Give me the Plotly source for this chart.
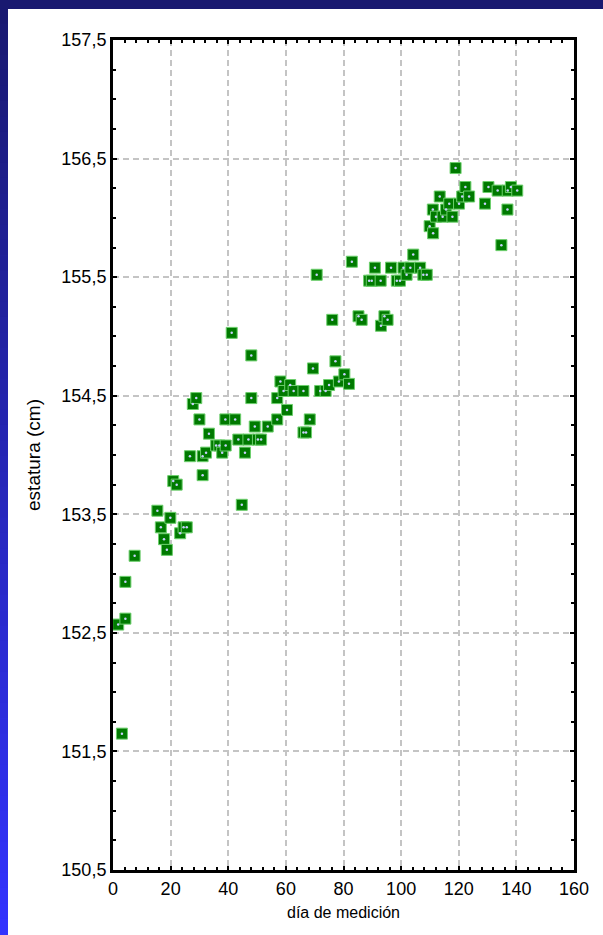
import plotly.graph_objects as go

# ---- data ----
dia = [3.1, 1.8, 4.3, 4.3, 7.5, 15.4, 16.6, 17.7, 18.7, 19.9,
       20.9, 22.1, 23.3, 24.5, 25.6, 26.7, 27.7, 28.9, 30.0, 31.1,
       31.1, 32.3, 33.3, 35.8, 36.9, 37.9, 39.0, 39.1, 41.2, 42.4,
       43.5, 44.7, 45.8, 47.0, 48.0, 48.0, 49.2, 50.3, 51.4, 53.7,
       57.0, 57.0, 58.1, 59.2, 60.4, 61.5, 62.7, 66.1, 66.1, 67.0,
       68.3, 69.4, 70.7, 71.9, 73.8, 75.0, 76.1, 77.2, 78.4, 80.3,
       81.9, 82.9, 85.2, 86.3, 88.9, 89.8, 90.9, 92.9, 93.0, 94.2,
       95.3, 96.5, 98.5, 99.6, 100.8, 101.9, 103.2, 104.2, 106.6, 107.7,
       108.9, 109.9, 111.0, 111.1, 112.1, 113.4, 114.4, 115.6, 116.7, 117.8,
       118.9, 120.1, 121.2, 122.3, 123.6, 129.1, 130.3, 133.5, 134.8, 136.9,
       137.0, 138.1, 140.3]
estatura = [151.65, 152.57, 152.62, 152.93, 153.15, 153.53, 153.39, 153.29, 153.20, 153.47,
            153.78, 153.75, 153.34, 153.39, 153.39, 153.99, 154.43, 154.48, 154.30, 153.83,
            153.99, 154.02, 154.18, 154.08, 154.08, 154.02, 154.30, 154.08, 155.03, 154.30,
            154.13, 153.58, 154.02, 154.13, 154.84, 154.48, 154.24, 154.13, 154.13, 154.24,
            154.48, 154.30, 154.62, 154.54, 154.38, 154.59, 154.54, 154.54, 154.19, 154.19,
            154.30, 154.73, 155.52, 154.54, 154.54, 154.59, 155.14, 154.79, 154.62, 154.68,
            154.60, 155.63, 155.17, 155.14, 155.47, 155.47, 155.58, 155.47, 155.09, 155.17,
            155.14, 155.58, 155.47, 155.47, 155.58, 155.52, 155.58, 155.69, 155.58, 155.52,
            155.52, 155.93, 156.07, 155.87, 156.01, 156.18, 156.01, 156.07, 156.12, 156.01,
            156.42, 156.12, 156.18, 156.26, 156.18, 156.12, 156.26, 156.23, 155.77, 156.07,
            156.23, 156.26, 156.23]

x_ticks = [0, 20, 40, 60, 80, 100, 120, 140, 160]
y_ticks = [150.5, 151.5, 152.5, 153.5, 154.5, 155.5, 156.5, 157.5]

W, H = 603, 935
ML, MR, MT, MB = 113, 29, 40, 65
PW, PH = W - ML - MR, H - MT - MB
FONT = "Liberation Sans, Arial"

fig = go.Figure()
fig.add_trace(go.Scatter(
    x=dia, y=estatura, mode="markers",
    marker=dict(symbol="square", size=11, color="#007a00",
                line=dict(color="#6ccf6c", width=1)),
    hoverinfo="x+y", showlegend=False))
fig.add_trace(go.Scatter(
    x=dia, y=estatura, mode="markers",
    marker=dict(symbol="circle", size=2.5, color="#c8d0ff", line=dict(width=0)),
    hoverinfo="skip", showlegend=False))

# frame (navy top band + gradient left stripe)
shapes = []
top_y0 = 1 + (MT - 9) / PH
top_y1 = 1 + MT / PH
shapes.append(dict(type="rect", xref="paper", yref="paper",
                   x0=-ML / PW, x1=1 + MR / PW, y0=top_y0, y1=top_y1,
                   fillcolor="#191970", line=dict(width=0), layer="below"))
n = 60
c0 = (25, 25, 112)
c1 = (51, 51, 255)
ybot = -MB / PH
ytop = top_y0
for i in range(n):
    t = (i + 0.5) / n
    col = tuple(round(c0[k] + (c1[k] - c0[k]) * t) for k in range(3))
    ya = ytop - (ytop - ybot) * i / n
    yb = ytop - (ytop - ybot) * (i + 1) / n
    shapes.append(dict(type="rect", xref="paper", yref="paper",
                       x0=-ML / PW, x1=(-ML + 8) / PW, y0=yb, y1=ya + 0.001,
                       fillcolor="rgb(%d,%d,%d)" % col, line=dict(width=0), layer="below"))

axis_common = dict(
    showline=True, linecolor="black", linewidth=3, mirror="allticks",
    ticks="inside", ticklen=4, tickwidth=2, tickcolor="black",
    showgrid=True, gridcolor="#c4c4c4", gridwidth=2, griddash="6px,4px",
    zeroline=False,
    tickfont=dict(family=FONT, size=18, color="black"),
)

fig.update_layout(
    width=W, height=H,
    margin=dict(l=ML, r=MR, t=MT, b=MB),
    paper_bgcolor="white", plot_bgcolor="white",
    separators=",.",
    shapes=shapes,
    xaxis=dict(range=[0, 160], tickvals=x_ticks, ticktext=[str(v) for v in x_ticks],
               minor=dict(ticks="inside", ticklen=3, tickwidth=2, tickcolor="black", dtick=4, tick0=0, showgrid=False),
               title=dict(text="día de medición", standoff=10,
                          font=dict(family=FONT, size=16, color="black")),
               **axis_common),
    yaxis=dict(range=[150.5, 157.5], tickvals=y_ticks, tickformat=".1f",
               minor=dict(ticks="inside", ticklen=3, tickwidth=2, tickcolor="black", dtick=0.25, tick0=150.5, showgrid=False),
               ticklabelstandoff=0,
               title=dict(text="estatura (cm)", standoff=16,
                          font=dict(family=FONT, size=19, color="black")),
               **axis_common),
)

fig.write_html("out.html")
